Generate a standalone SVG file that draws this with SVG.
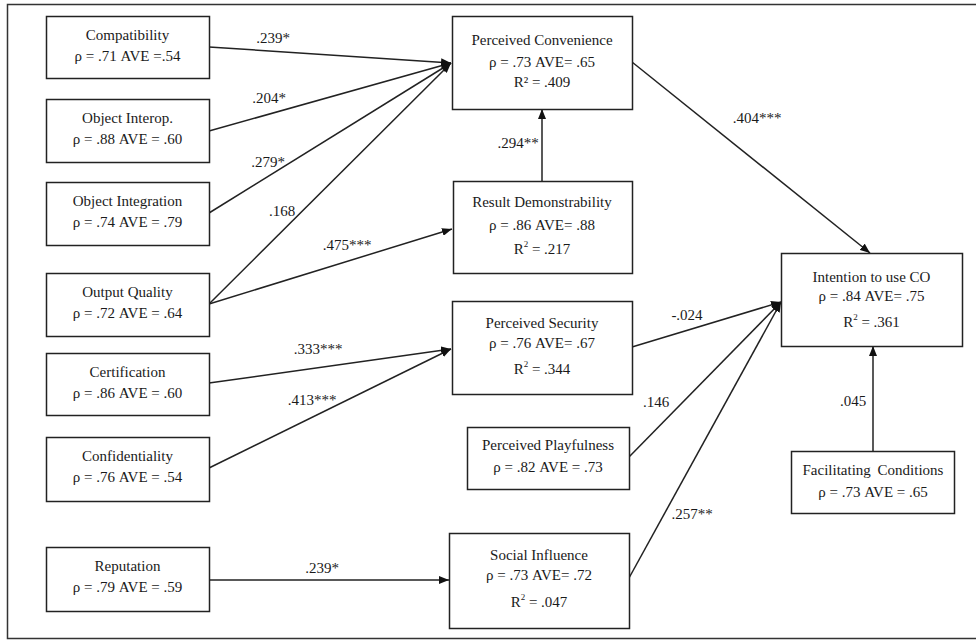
<svg xmlns="http://www.w3.org/2000/svg" width="976" height="640" viewBox="0 0 976 640">
<defs>
<marker id="arr" viewBox="0 0 10 8" refX="10" refY="4" markerWidth="10" markerHeight="8" markerUnits="userSpaceOnUse" orient="auto"><path d="M0,0 L10,4 L0,8 z" fill="#111"/></marker>
<style>
text{font-family:"Liberation Serif","Times New Roman",serif;font-size:15px;fill:#1a1a1a;text-anchor:middle}
.box{fill:#fff;stroke:#222;stroke-width:1.5}
.edge{stroke:#222;stroke-width:1.5;fill:none;marker-end:url(#arr)}
.sup{font-size:9px}
</style>
</defs>
<rect width="976" height="640" fill="#fff"/>
<path d="M980,4.5 H7.5 V638.5 H980" fill="none" stroke="#333" stroke-width="1.5"/>

<g id="connectors">
<line class="edge" x1="209" y1="47" x2="451" y2="63"/>
<line class="edge" x1="209" y1="131" x2="451" y2="63"/>
<line class="edge" x1="209" y1="213" x2="451" y2="63"/>
<line class="edge" x1="209" y1="304" x2="451" y2="63"/>
<line class="edge" x1="209" y1="304" x2="452" y2="229"/>
<line class="edge" x1="542" y1="181" x2="542" y2="109"/>
<line class="edge" x1="209" y1="383" x2="451" y2="349"/>
<line class="edge" x1="209" y1="468" x2="451" y2="349"/>
<line class="edge" x1="209" y1="580" x2="449" y2="580"/>
<line class="edge" x1="632" y1="62" x2="870" y2="253"/>
<line class="edge" x1="632" y1="347" x2="781" y2="302"/>
<line class="edge" x1="629" y1="457" x2="781" y2="302"/>
<line class="edge" x1="629" y1="578" x2="781" y2="302"/>
<line class="edge" x1="873" y1="451" x2="873" y2="346"/>
<text x="273" y="43">.239*</text>
<text x="269" y="103">.204*</text>
<text x="268" y="167">.279*</text>
<text x="282" y="216">.168</text>
<text x="347" y="250">.475***</text>
<text x="518" y="148">.294**</text>
<text x="318" y="354">.333***</text>
<text x="312" y="405">.413***</text>
<text x="322" y="573">.239*</text>
<text x="757" y="123">.404***</text>
<text x="687" y="320">-.024</text>
<text x="656" y="407">.146</text>
<text x="692" y="519">.257**</text>
<text x="853" y="406">.045</text>
</g>

<g id="compatibility"><rect class="box" x="46.5" y="16.5" width="163" height="62"/><text x="127.5" y="40">Compatibility</text><text x="127.5" y="61">ρ = .71 AVE =.54</text></g>
<g id="object-interop"><rect class="box" x="46.5" y="99.5" width="163" height="63"/><text x="127.5" y="123">Object Interop.</text><text x="127.5" y="144">ρ = .88 AVE = .60</text></g>
<g id="object-integration"><rect class="box" x="46.5" y="182.5" width="163" height="63"/><text x="127.5" y="206">Object Integration</text><text x="127.5" y="227">ρ = .74 AVE = .79</text></g>
<g id="output-quality"><rect class="box" x="46.5" y="273.5" width="163" height="63"/><text x="127.5" y="297">Output Quality</text><text x="127.5" y="318">ρ = .72 AVE = .64</text></g>
<g id="certification"><rect class="box" x="46.5" y="353.5" width="163" height="62"/><text x="127.5" y="377">Certification</text><text x="127.5" y="398">ρ = .86 AVE = .60</text></g>
<g id="confidentiality"><rect class="box" x="46.5" y="437.5" width="163" height="64"/><text x="127.5" y="461">Confidentiality</text><text x="127.5" y="482">ρ = .76 AVE = .54</text></g>
<g id="reputation"><rect class="box" x="46.5" y="547.5" width="163" height="64"/><text x="127.5" y="571">Reputation</text><text x="127.5" y="592">ρ = .79 AVE = .59</text></g>

<g id="perceived-convenience"><rect class="box" x="452.5" y="16.5" width="180" height="93"/><text x="542" y="45">Perceived Convenience</text><text x="542" y="67">ρ = .73 AVE= .65</text><text x="542" y="87">R² = .409</text></g>
<g id="result-demonstrability"><rect class="box" x="453.5" y="181.5" width="179" height="92"/><text x="542" y="207">Result Demonstrability</text><text x="542" y="230">ρ = .86 AVE= .88</text><text x="542" y="254">R<tspan class="sup" dy="-7">2</tspan><tspan dy="7"> = .217</tspan></text></g>
<g id="perceived-security"><rect class="box" x="452.5" y="301.5" width="180" height="93"/><text x="542" y="328">Perceived Security</text><text x="542" y="348">ρ = .76 AVE= .67</text><text x="542" y="374">R<tspan class="sup" dy="-7">2</tspan><tspan dy="7"> = .344</tspan></text></g>
<g id="perceived-playfulness"><rect class="box" x="467.5" y="427.5" width="162" height="62"/><text x="548" y="450">Perceived Playfulness</text><text x="548" y="472">ρ = .82 AVE = .73</text></g>
<g id="social-influence"><rect class="box" x="449.5" y="533.5" width="180" height="95"/><text x="539" y="560">Social Influence</text><text x="539" y="580">ρ = .73 AVE= .72</text><text x="539" y="607">R<tspan class="sup" dy="-7">2</tspan><tspan dy="7"> = .047</tspan></text></g>
<g id="intention"><rect class="box" x="781.5" y="253.5" width="181" height="93"/><text x="871.5" y="282">Intention to use CO</text><text x="871.5" y="301">ρ = .84 AVE= .75</text><text x="871.5" y="327">R<tspan class="sup" dy="-7">2</tspan><tspan dy="7"> = .361</tspan></text></g>
<g id="facilitating-conditions"><rect class="box" x="791.5" y="451.5" width="163" height="62"/><text x="873" y="475" word-spacing="3">Facilitating Conditions</text><text x="873" y="497">ρ = .73 AVE = .65</text></g>
</svg>
